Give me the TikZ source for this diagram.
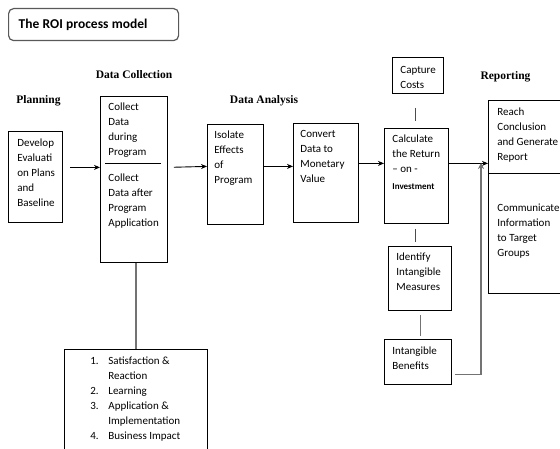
\documentclass[tikz,border=0pt]{standalone}
\usepackage{fontspec}
\setmainfont{Carlito}
\newfontfamily\labfont{Liberation Serif}
\usetikzlibrary{arrows.meta,calc}
\newcommand{\bx}[5]{\parbox[t][#2][t]{#1}{\raggedright\leftskip=#3\relax\fontsize{11}{15}\selectfont\rule{0pt}{#4}\ignorespaces#5}}
\newcommand{\li}[2]{\makebox[18pt][l]{#1}#2}
\begin{document}
\begin{tikzpicture}[x=1pt,y=-1pt,
  box/.style={draw=black,line width=0.8pt,inner sep=0pt,anchor=north west},
  titlebox/.style={draw=black!65,line width=1.2pt,rounded corners=5pt,anchor=north west,minimum width=170pt,minimum height=32pt,inner xsep=10pt,inner ysep=0pt,text width=150pt,align=left},
  lab/.style={font=\labfont\bfseries\fontsize{11.5}{13}\selectfont,anchor=base,inner sep=0pt},
  arr/.style={line width=0.9pt,-{Stealth[length=6pt,width=5pt]}},
  conn/.style={line width=1pt,draw=black!70},
  gconn/.style={line width=1.6pt,draw=black!55}]
\useasboundingbox (0,0) rectangle (560,449);
\clip (0,0) rectangle (560,449);
\fill[white] (0,0) rectangle (560,449);

\node[titlebox] (title) at (8,8) {\fontsize{13.5}{15}\selectfont\bfseries The ROI process model};

\node[lab] (lplan) at (38.5,104) {Planning};
\node[lab] (lcol) at (134,79) {Data Collection};
\node[lab] (lana) at (264,104) {Data Analysis};
\node[lab] (lrep) at (505.5,80) {Reporting};

\node[box] (dev) at (8,131) {\bx{54pt}{91pt}{9pt}{15pt}{Develop\\Evaluati\\on Plans\\and\\Baseline}};
\node[box] (col) at (100,96) {\bx{67pt}{166pt}{8pt}{14.5pt}{Collect\\Data\\during\\Program\\[11pt]Collect\\Data after\\Program\\Application}};
\draw[line width=0.8pt] ([shift={(5,67)}]col.north west) -- ([shift={(-7,67)}]col.north east);
\node[box] (iso) at (207,124) {\bx{56pt}{100pt}{7pt}{14.5pt}{Isolate\\Effects\\of\\Program}};
\node[box] (conv) at (293,123) {\bx{65pt}{99pt}{7pt}{14.5pt}{Convert\\Data to\\Monetary\\Value}};
\node[box] (calc) at (384,128) {\bx{64pt}{95pt}{8pt}{14.5pt}{Calculate\\the Return\\– on -\\[2pt]{\fontsize{9}{11}\selectfont\bfseries Investment}}};
\node[box] (cap) at (392,57) {\bx{51pt}{36pt}{8pt}{16pt}{Capture\\Costs}};
\node[box] (ident) at (388,246) {\bx{63pt}{64pt}{8pt}{14.5pt}{Identify\\Intangible\\Measures}};
\node[box] (intb) at (384,339) {\bx{67pt}{45pt}{8pt}{15pt}{Intangible\\Benefits}};
\node[box] (rep) at (488,100) {\bx{90pt}{193pt}{9pt}{15.5pt}{Reach\\Conclusion\\and~Generate\\Report\\[36pt]Communicate\\Information\\to~Target\\Groups}};
\draw[line width=0.8pt] ([shift={(0,73)}]rep.north west) -- ([shift={(0,73)}]rep.north east);
\node[box] (list) at (64,349) {\bx{143pt}{112pt}{26pt}{15.5pt}{\li{1.}{Satisfaction \&}\\\li{}{Reaction}\\\li{2.}{Learning}\\\li{3.}{Application \&}\\\li{}{Implementation}\\\li{4.}{Business Impact}}};

\coordinate (j) at (481,163);

\draw[arr,shorten <=7pt] ([yshift=9.5pt]dev.east) -- ([yshift=12pt]col.west);
\draw[arr,shorten <=6pt] ([yshift=12pt]col.east) -- ([yshift=8pt]iso.west);
\draw[arr] ([yshift=8pt]iso.east) -- ([yshift=6.5pt]conv.west);
\draw[arr] ([yshift=9.5pt]conv.east) -- ([yshift=12.5pt]calc.west);
\draw[arr] ([yshift=12.5pt]calc.east) -- ([yshift=33.5pt]rep.west);
\draw[conn,shorten <=14pt,shorten >=7pt] ([xshift=-2.5pt]cap.south) -- ([xshift=-1pt]calc.north);
\draw[conn,shorten <=5pt,shorten >=4pt] ([xshift=-1pt]calc.south) -- ([xshift=-4.5pt]ident.south |- ident.north);
\draw[gconn,shorten <=4pt,shorten >=3pt] ([xshift=0.5pt]ident.south) -- ([xshift=2.5pt]intb.north);
\draw[gconn,shorten <=3pt,-{Stealth[length=6pt,width=6pt,fill=black]}] ([yshift=-12.5pt]intb.east) -| (j);
\draw[gconn] (list.north) -- (list.north |- col.south);
\end{tikzpicture}
\end{document}
